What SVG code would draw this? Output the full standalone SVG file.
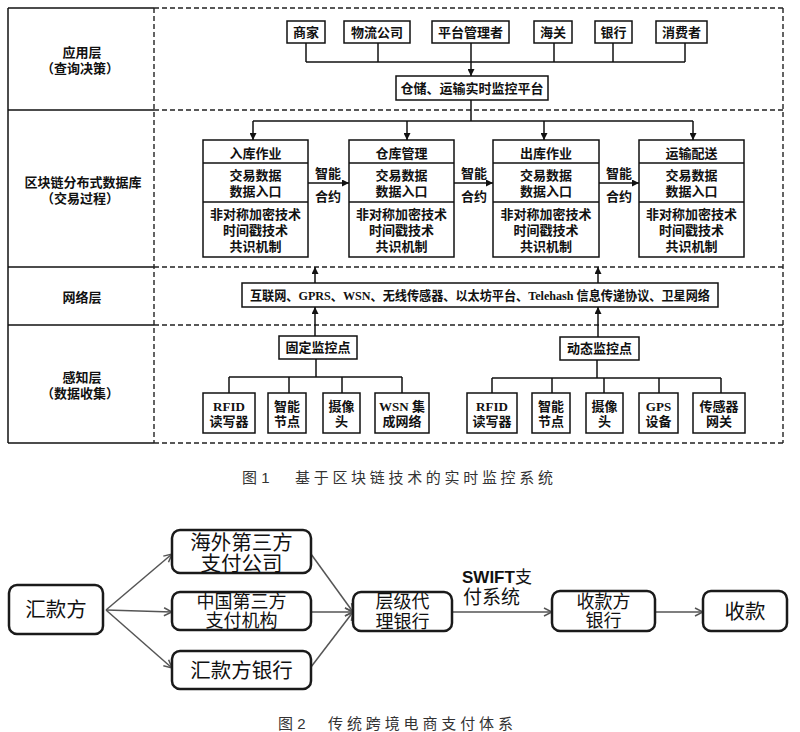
<svg xmlns="http://www.w3.org/2000/svg" width="800" height="732" viewBox="0 0 800 732">
<defs>
<style>
.s{stroke:#111;stroke-width:1.5;fill:none}
.d{stroke:#222;stroke-width:1.4;fill:none;stroke-dasharray:5,3}
.b{stroke:#111;stroke-width:1.5;fill:#fff}
.t{font-family:"Liberation Serif","Noto Sans CJK SC",serif;font-size:13px;font-weight:bold;fill:#111;text-anchor:middle;dominant-baseline:central}
.rb{stroke:#1a1a1a;stroke-width:2.5;fill:#fff}
.t2{font-family:"Liberation Sans","Noto Sans CJK SC",sans-serif;font-size:20.5px;fill:#111;text-anchor:middle;dominant-baseline:central}
.t3{font-family:"Liberation Sans","Noto Sans CJK SC",sans-serif;font-size:18px;fill:#111;text-anchor:middle;dominant-baseline:central}
.ar{stroke:#555;stroke-width:1.5;fill:none}
.cap{font-family:"Liberation Sans","Noto Sans CJK SC",sans-serif;font-size:15px;fill:#333;dominant-baseline:central}
</style>
<marker id="ah" viewBox="0 0 10 10" refX="10" refY="5" markerWidth="7" markerHeight="7" orient="auto" markerUnits="userSpaceOnUse">
<path d="M0,0 L10,5 L0,10 z" fill="#111"/>
</marker>
<marker id="oh" viewBox="0 0 10 10" refX="9" refY="5" markerWidth="10" markerHeight="10" orient="auto" markerUnits="userSpaceOnUse">
<path d="M1,1 L9,5 L1,9" fill="none" stroke="#555" stroke-width="1.5"/>
</marker>
</defs>
<rect width="800" height="732" fill="#fff"/>

<!-- Figure 1 frame -->
<g id="frame">
<line class="s" x1="8" y1="8" x2="8" y2="443"/>
<line class="s" x1="8" y1="8" x2="154" y2="8"/>
<line class="s" x1="8" y1="110" x2="154" y2="110"/>
<line class="s" x1="8" y1="267" x2="154" y2="267"/>
<line class="s" x1="8" y1="325" x2="154" y2="325"/>
<line class="s" x1="8" y1="443" x2="154" y2="443"/>
<line class="d" x1="154" y1="8" x2="154" y2="443"/>
<line class="d" x1="154" y1="8" x2="783" y2="8"/>
<line class="d" x1="154" y1="110" x2="783" y2="110"/>
<line class="d" x1="154" y1="267" x2="783" y2="267"/>
<line class="d" x1="154" y1="325" x2="783" y2="325"/>
<line class="d" x1="154" y1="443" x2="783" y2="443"/>
<line class="d" x1="783" y1="8" x2="783" y2="443"/>
</g>
<g id="layer-labels">
<text class="t" x="82" y="52">应用层</text>
<text class="t" x="80" y="68">（查询决策）</text>
<text class="t" x="83" y="182">区块链分布式数据库</text>
<text class="t" x="80" y="198">（交易过程）</text>
<text class="t" x="82" y="297">网络层</text>
<text class="t" x="82" y="377">感知层</text>
<text class="t" x="80" y="393">（数据收集）</text>
</g>

<!-- connectors figure 1 -->
<g id="connectors1">
<line class="s" x1="306" y1="43" x2="306" y2="62"/>
<line class="s" x1="378" y1="43" x2="378" y2="62"/>
<line class="s" x1="554" y1="43" x2="554" y2="62"/>
<line class="s" x1="613" y1="43" x2="613" y2="62"/>
<line class="s" x1="685" y1="43" x2="685" y2="62"/>
<line class="s" x1="306" y1="62" x2="685" y2="62"/>
<line class="s" x1="471" y1="43" x2="471" y2="76" marker-end="url(#ah)"/>
<line class="s" x1="471" y1="100" x2="471" y2="121"/>
<line class="s" x1="253" y1="121" x2="693" y2="121"/>
<line class="s" x1="253" y1="121" x2="253" y2="140" marker-end="url(#ah)"/>
<line class="s" x1="407" y1="121" x2="407" y2="140" marker-end="url(#ah)"/>
<line class="s" x1="544" y1="121" x2="544" y2="140" marker-end="url(#ah)"/>
<line class="s" x1="693" y1="121" x2="693" y2="140" marker-end="url(#ah)"/>
<line class="s" x1="308" y1="183" x2="349" y2="183" marker-end="url(#ah)"/>
<line class="s" x1="454" y1="183" x2="493" y2="183" marker-end="url(#ah)"/>
<line class="s" x1="599" y1="183" x2="639" y2="183" marker-end="url(#ah)"/>
<line class="s" x1="315" y1="283" x2="315" y2="267" marker-end="url(#ah)"/>
<line class="s" x1="598" y1="283" x2="598" y2="267" marker-end="url(#ah)"/>
<line class="s" x1="315" y1="336" x2="315" y2="307" marker-end="url(#ah)"/>
<line class="s" x1="598" y1="337" x2="598" y2="307" marker-end="url(#ah)"/>
<line class="s" x1="316" y1="359" x2="316" y2="377"/>
<line class="s" x1="229" y1="377" x2="402" y2="377"/>
<line class="s" x1="229" y1="377" x2="229" y2="393"/>
<line class="s" x1="289" y1="377" x2="289" y2="393"/>
<line class="s" x1="342" y1="377" x2="342" y2="393"/>
<line class="s" x1="402" y1="377" x2="402" y2="393"/>
<line class="s" x1="597" y1="360" x2="597" y2="378"/>
<line class="s" x1="492" y1="378" x2="721" y2="378"/>
<line class="s" x1="492" y1="378" x2="492" y2="393"/>
<line class="s" x1="552" y1="378" x2="552" y2="393"/>
<line class="s" x1="604" y1="378" x2="604" y2="393"/>
<line class="s" x1="659" y1="378" x2="659" y2="393"/>
<line class="s" x1="721" y1="378" x2="721" y2="393"/>
<text class="t" x="328" y="173">智能</text>
<text class="t" x="328" y="196">合约</text>
<text class="t" x="474" y="173">智能</text>
<text class="t" x="474" y="196">合约</text>
<text class="t" x="619" y="173">智能</text>
<text class="t" x="619" y="196">合约</text>
</g>

<!-- application layer nodes -->
<g id="n-shangjia"><rect class="b" x="287" y="21" width="38" height="22"/><text class="t" x="306" y="32">商家</text></g>
<g id="n-wuliu"><rect class="b" x="344" y="21" width="66" height="22"/><text class="t" x="377" y="32">物流公司</text></g>
<g id="n-pingtai"><rect class="b" x="432" y="21" width="77" height="22"/><text class="t" x="470.5" y="32">平台管理者</text></g>
<g id="n-haiguan"><rect class="b" x="534" y="21" width="38" height="22"/><text class="t" x="553" y="32">海关</text></g>
<g id="n-yinhang"><rect class="b" x="595" y="21" width="37" height="22"/><text class="t" x="613.5" y="32">银行</text></g>
<g id="n-xiaofei"><rect class="b" x="656" y="21" width="51" height="22"/><text class="t" x="681.5" y="32">消费者</text></g>
<g id="n-platform"><rect class="b" x="396" y="76" width="152" height="24"/><text class="t" x="472" y="88">仓储、运输实时监控平台</text></g>

<!-- blockchain blocks -->
<g id="n-ruku">
<rect class="b" x="203" y="140" width="105" height="117"/>
<line class="s" x1="203" y1="163" x2="308" y2="163"/><line class="s" x1="203" y1="202" x2="308" y2="202"/>
<text class="t" x="255.5" y="153">入库作业</text><text class="t" x="255.5" y="175">交易数据</text><text class="t" x="255.5" y="191">数据入口</text>
<text class="t" x="255.5" y="214">非对称加密技术</text><text class="t" x="255.5" y="230">时间戳技术</text><text class="t" x="255.5" y="246">共识机制</text>
</g>
<g id="n-cangku">
<rect class="b" x="349" y="140" width="105" height="117"/>
<line class="s" x1="349" y1="163" x2="454" y2="163"/><line class="s" x1="349" y1="202" x2="454" y2="202"/>
<text class="t" x="401.5" y="153">仓库管理</text><text class="t" x="401.5" y="175">交易数据</text><text class="t" x="401.5" y="191">数据入口</text>
<text class="t" x="401.5" y="214">非对称加密技术</text><text class="t" x="401.5" y="230">时间戳技术</text><text class="t" x="401.5" y="246">共识机制</text>
</g>
<g id="n-chuku">
<rect class="b" x="493" y="140" width="106" height="117"/>
<line class="s" x1="493" y1="163" x2="599" y2="163"/><line class="s" x1="493" y1="202" x2="599" y2="202"/>
<text class="t" x="546" y="153">出库作业</text><text class="t" x="546" y="175">交易数据</text><text class="t" x="546" y="191">数据入口</text>
<text class="t" x="546" y="214">非对称加密技术</text><text class="t" x="546" y="230">时间戳技术</text><text class="t" x="546" y="246">共识机制</text>
</g>
<g id="n-yunshu">
<rect class="b" x="639" y="140" width="105" height="117"/>
<line class="s" x1="639" y1="163" x2="744" y2="163"/><line class="s" x1="639" y1="202" x2="744" y2="202"/>
<text class="t" x="691.5" y="153">运输配送</text><text class="t" x="691.5" y="175">交易数据</text><text class="t" x="691.5" y="191">数据入口</text>
<text class="t" x="691.5" y="214">非对称加密技术</text><text class="t" x="691.5" y="230">时间戳技术</text><text class="t" x="691.5" y="246">共识机制</text>
</g>

<!-- network -->
<g id="n-network"><rect class="b" x="242" y="283" width="476" height="24"/><text class="t" x="480" y="295" textLength="460" lengthAdjust="spacingAndGlyphs">互联网、GPRS、WSN、无线传感器、以太坊平台、Telehash 信息传递协议、卫星网络</text></g>

<!-- sensing -->
<g id="n-guding"><rect class="b" x="279" y="336" width="78" height="23"/><text class="t" x="318" y="347.5">固定监控点</text></g>
<g id="n-dongtai"><rect class="b" x="560" y="337" width="79" height="23"/><text class="t" x="599.5" y="348.5">动态监控点</text></g>
<g id="n-rfid1"><rect class="b" x="203" y="393" width="52" height="40"/><text class="t" x="229" y="406">RFID</text><text class="t" x="229" y="421">读写器</text></g>
<g id="n-zhineng1"><rect class="b" x="268" y="393" width="38" height="40"/><text class="t" x="287" y="406">智能</text><text class="t" x="287" y="421">节点</text></g>
<g id="n-shexiang1"><rect class="b" x="323" y="393" width="37" height="40"/><text class="t" x="341.5" y="406">摄像</text><text class="t" x="341.5" y="421">头</text></g>
<g id="n-wsn"><rect class="b" x="375" y="393" width="54" height="40"/><text class="t" x="402" y="406">WSN 集</text><text class="t" x="402" y="421">成网络</text></g>
<g id="n-rfid2"><rect class="b" x="467" y="393" width="50" height="40"/><text class="t" x="492" y="406">RFID</text><text class="t" x="492" y="421">读写器</text></g>
<g id="n-zhineng2"><rect class="b" x="532" y="393" width="38" height="40"/><text class="t" x="551" y="406">智能</text><text class="t" x="551" y="421">节点</text></g>
<g id="n-shexiang2"><rect class="b" x="586" y="393" width="37" height="40"/><text class="t" x="604.5" y="406">摄像</text><text class="t" x="604.5" y="421">头</text></g>
<g id="n-gps"><rect class="b" x="639" y="393" width="39" height="40"/><text class="t" x="658.5" y="406">GPS</text><text class="t" x="658.5" y="421">设备</text></g>
<g id="n-gateway"><rect class="b" x="693" y="393" width="52" height="40"/><text class="t" x="719" y="406">传感器</text><text class="t" x="719" y="421">网关</text></g>

<g id="caption1">
<text class="cap" x="242" y="477">图 1</text>
<text class="cap" x="295" y="477" textLength="258" lengthAdjust="spacing">基于区块链技术的实时监控系统</text>
</g>

<!-- Figure 2 -->
<g id="connectors2">
<line class="ar" x1="106" y1="610" x2="172" y2="554" marker-end="url(#oh)"/>
<line class="ar" x1="106" y1="610" x2="172" y2="612" marker-end="url(#oh)"/>
<line class="ar" x1="106" y1="610" x2="172" y2="668" marker-end="url(#oh)"/>
<line class="ar" x1="311" y1="554" x2="353" y2="612" marker-end="url(#oh)"/>
<line class="ar" x1="311" y1="612" x2="353" y2="612" marker-end="url(#oh)"/>
<line class="ar" x1="311" y1="667" x2="353" y2="612" marker-end="url(#oh)"/>
<line class="ar" x1="452" y1="612" x2="552" y2="612" marker-end="url(#oh)"/>
<line class="ar" x1="655" y1="612" x2="703" y2="612" marker-end="url(#oh)"/>
<text x="462" y="577" font-family="Liberation Sans, Noto Sans CJK SC, sans-serif" font-size="17" fill="#111" dominant-baseline="central"><tspan font-weight="bold">SWIFT</tspan>支</text>
<text x="463" y="597" font-family="Liberation Sans, Noto Sans CJK SC, sans-serif" font-size="19" fill="#111" dominant-baseline="central">付系统</text>
</g>
<g id="m-huikuanfang"><rect class="rb" x="9" y="585" width="94" height="49" rx="8"/><text class="t2" x="56" y="609">汇款方</text></g>
<g id="m-haiwai"><rect class="rb" x="172" y="530" width="139" height="43" rx="8"/><text class="t2" x="241.5" y="542">海外第三方</text><text class="t2" x="241.5" y="563">支付公司</text></g>
<g id="m-zhongguo"><rect class="rb" x="172" y="592" width="139" height="38" rx="8"/><text class="t3" x="241.5" y="601.5">中国第三方</text><text class="t3" x="241.5" y="621">支付机构</text></g>
<g id="m-huikuanyh"><rect class="rb" x="172" y="651" width="139" height="38" rx="8"/><text class="t2" x="241.5" y="670">汇款方银行</text></g>
<g id="m-cengji"><rect class="rb" x="353" y="592" width="99" height="39" rx="8"/><text class="t3" x="402.5" y="602">层级代</text><text class="t3" x="402.5" y="621.5">理银行</text></g>
<g id="m-shoukuanyh"><rect class="rb" x="552" y="591" width="103" height="40" rx="8"/><text class="t3" x="603.5" y="601.5">收款方</text><text class="t3" x="603.5" y="621">银行</text></g>
<g id="m-shoukuan"><rect class="rb" x="703" y="591" width="84" height="40" rx="8"/><text class="t2" x="745" y="611">收款</text></g>

<g id="caption2">
<text class="cap" x="278" y="723">图 2</text>
<text class="cap" x="328" y="723" textLength="185" lengthAdjust="spacing">传统跨境电商支付体系</text>
</g>
</svg>
